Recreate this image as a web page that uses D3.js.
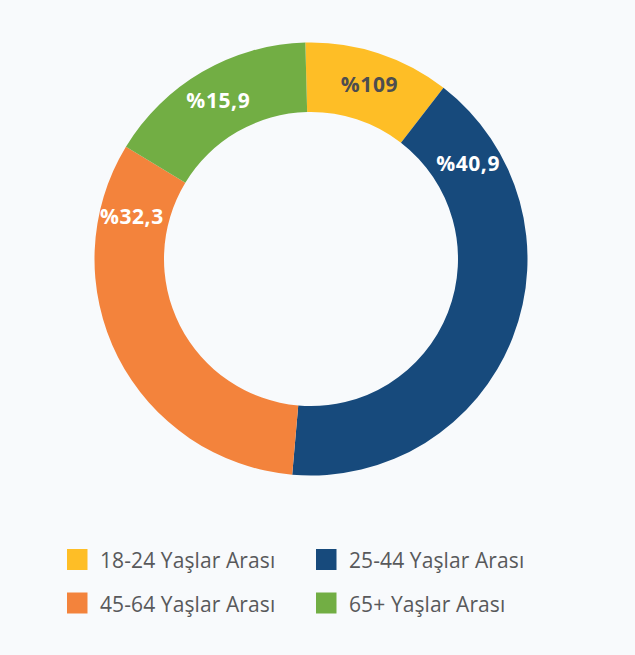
<!doctype html>
<html lang="tr">
<head>
  <meta charset="utf-8">
  <title>Yaş dağılımı</title>
  <style>
    html, body { margin: 0; padding: 0; background: #f8fafc; }
    svg { display: block; font-family: "Open Sans", sans-serif; }
    .slice-label { font-weight: 700; font-size: 21px; letter-spacing: 0.6px; text-anchor: middle; dominant-baseline: central; }
    .legend text { font-size: 21px; letter-spacing: 0.1px; fill: #58595b; }
  </style>
</head>
<body>
<svg width="635" height="655"></svg>
<script src="https://d3js.org/d3.v7.min.js"></script>
<script>
  var categories = ["18-24 Yaşlar Arası", "25-44 Yaşlar Arası", "45-64 Yaşlar Arası", "65+ Yaşlar Arası"];
  var values = [10.9, 40.9, 32.3, 15.9];
  var labels = ["%109", "%40,9", "%32,3", "%15,9"];
  var colors = ["#febe26", "#174a7c", "#f3833c", "#72ae44"];
  var labelColors = ["#4d4d4f", "#fff", "#fff", "#fff"];
  // where each label sits on the ring (degrees clockwise from top)
  var labelAngles = [18.5, 58.5, 283.5, 329.8];

  var svg = d3.select("svg");
  var cx = 311, cy = 259, outerR = 216.5, innerR = 147;
  var offset = -1.5 * Math.PI / 180;

  var pie = d3.pie().sort(null)
    .startAngle(offset).endAngle(offset + 2 * Math.PI);
  var arc = d3.arc().innerRadius(innerR).outerRadius(outerR);

  var g = svg.append("g").attr("transform", "translate(" + cx + "," + cy + ")");

  g.selectAll("path")
    .data(pie(values))
    .enter().append("path")
    .attr("d", arc)
    .attr("fill", function (d, i) { return colors[i]; });

  var labelR = (innerR + outerR) / 2 + 2.5;
  g.selectAll("text")
    .data(labels)
    .enter().append("text")
    .attr("class", "slice-label")
    .attr("x", function (d, i) { return labelR * Math.sin(labelAngles[i] * Math.PI / 180); })
    .attr("y", function (d, i) { return -labelR * Math.cos(labelAngles[i] * Math.PI / 180); })
    .attr("fill", function (d, i) { return labelColors[i]; })
    .text(function (d) { return d; });

  var legend = svg.append("g").attr("class", "legend")
    .selectAll("g")
    .data(categories)
    .enter().append("g")
    .attr("transform", function (d, i) {
      return "translate(" + (67 + (i % 2) * 249) + "," + (549 + Math.floor(i / 2) * 43.5) + ")";
    });

  legend.append("rect")
    .attr("width", 20.5).attr("height", 21)
    .attr("fill", function (d, i) { return colors[i]; });

  legend.append("text")
    .attr("x", 33).attr("y", 19)
    .text(function (d) { return d; });
</script>
</body>
</html>
